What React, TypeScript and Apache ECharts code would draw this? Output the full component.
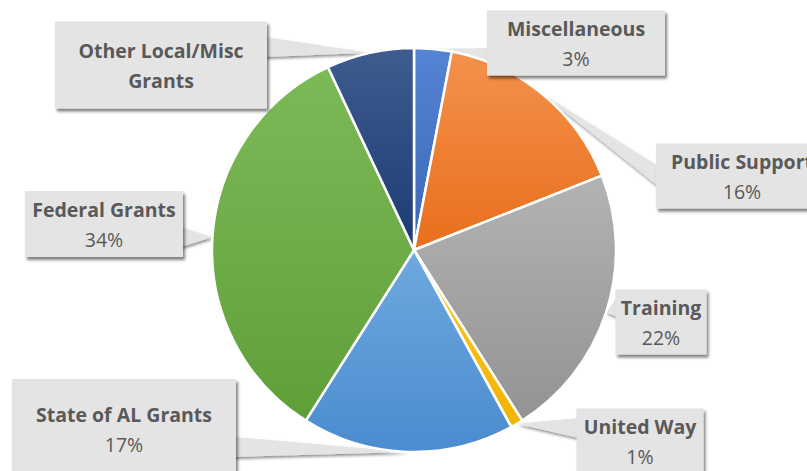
import React, { useEffect, useRef } from 'react';
import * as echarts from 'echarts';

const categories = ['Miscellaneous', 'Public Support', 'Training', 'United Way', 'State of AL Grants', 'Federal Grants', 'Other Local/Misc Grants'];
const values = [3, 16, 22, 1, 17, 34, 7];
const labelLines = [
  ['Miscellaneous', '3%'],
  ['Public Support', '16%'],
  ['Training', '22%'],
  ['United Way', '1%'],
  ['State of AL Grants', '17%'],
  ['Federal Grants', '34%'],
  ['Other Local/Misc', 'Grants'],
];
const topColors = ['#5584d4', '#f4914c', '#b3b3b3', '#ffc727', '#6ea9df', '#7cba58', '#3f5c8f'];
const bottomColors = ['#3b66b5', '#e86f1c', '#939393', '#f0b400', '#4a8ccf', '#5f9f38', '#1d3b73'];

const CX = 414;
const CY = 250;
const R = 202;

// label box layout (centre, size, which side the pointer leaves from, pointer base y)
const boxes = [
  { cx: 576, cy: 43, w: 178, h: 65, side: 'left', by: 58 },
  { cx: 742, cy: 176, w: 172, h: 65, side: 'left', by: 176 },
  { cx: 661, cy: 322, w: 91, h: 65, side: 'left', by: 307 },
  { cx: 640, cy: 441, w: 127, h: 65, side: 'left', by: 428 },
  { cx: 124, cy: 429, w: 224, h: 100, side: 'right', by: 447 },
  { cx: 104, cy: 224, w: 158, h: 66, side: 'right', by: 237 },
  { cx: 161, cy: 65, w: 212, h: 87, side: 'right', by: 47 },
];

export default function App() {
  const ref = useRef<HTMLDivElement>(null);
  useEffect(() => {
    if (!ref.current) return;
    const chart = echarts.init(ref.current, null, { renderer: 'svg' });
    const total = values.reduce((a, b) => a + b, 0);
    let cum = 0;
    const wedges: any[] = [];
    values.forEach((v, i) => {
      const mid = ((cum + v / 2) / total) * Math.PI * 2;
      cum += v;
      const tx = CX + R * Math.sin(mid);
      const ty = CY - R * Math.cos(mid);
      const b = boxes[i];
      const bx = b.side === 'left' ? b.cx - b.w / 2 + 2 : b.cx + b.w / 2 - 2;
      wedges.push({
        type: 'polygon',
        z: 1,
        shape: { points: [[tx, ty], [bx, b.by - 10], [bx, b.by + 10]] },
        style: {
          fill: '#e4e4e4',
          shadowColor: 'rgba(0,0,0,0.45)',
          shadowBlur: 3,
          shadowOffsetX: 1,
          shadowOffsetY: 2,
        },
      });
    });
    const data = categories.map((name, i) => {
      const b = boxes[i];
      return {
        name,
        value: values[i],
        itemStyle: {
          color: {
            type: 'linear', x: 0, y: 0, x2: 0, y2: 1,
            colorStops: [
              { offset: 0, color: topColors[i] },
              { offset: 1, color: bottomColors[i] },
            ],
          },
        },
        label: {
          formatter: i === 6
            ? `{b|${labelLines[i][0]}}\n{b|${labelLines[i][1]}}`
            : `{b|${labelLines[i][0]}}\n{c|${labelLines[i][1]}}`,
          width: b.w,
          padding: [(b.h - 60) / 2, 0, (b.h - 60) / 2, 0],
        },
      };
    });
    chart.setOption({
      animation: false,
      backgroundColor: '#ffffff',
      graphic: wedges,
      series: [
        {
          type: 'pie',
          z: 2,
          center: [CX, CY],
          radius: [0, R],
          startAngle: 90,
          clockwise: true,
          avoidLabelOverlap: false,
          itemStyle: { borderColor: '#ffffff', borderWidth: 2.5 },
          label: {
            show: true,
            position: 'outside',
            align: 'center',
            backgroundColor: '#e4e4e4',
            shadowColor: 'rgba(0,0,0,0.5)',
            shadowBlur: 3,
            shadowOffsetX: 2,
            shadowOffsetY: 3,
            rich: {
              b: { fontFamily: 'Open Sans', fontWeight: 'bold', fontSize: 19.5, lineHeight: 30, color: '#595959', align: 'center' },
              c: { fontFamily: 'Open Sans', fontSize: 19.5, lineHeight: 30, color: '#595959', align: 'center' },
            },
          },
          labelLine: { show: false },
          labelLayout: (params: any) => {
            const b = boxes[params.dataIndex];
            return { x: b.cx, y: b.cy, align: 'center', verticalAlign: 'middle', hideOverlap: false };
          },
          emphasis: { disabled: true },
          data,
        },
      ],
    });
    return () => chart.dispose();
  }, []);
  return <div ref={ref} style={{ position: 'fixed', left: 0, top: 0, width: 807, height: 471 }} />;
}
